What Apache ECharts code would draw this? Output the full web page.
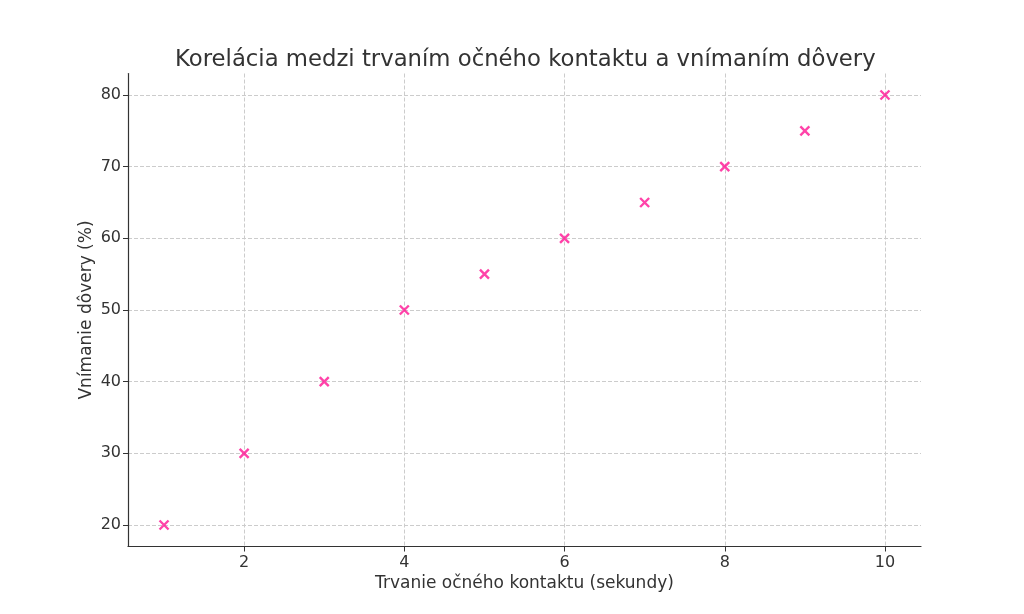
<!DOCTYPE html>
<html>
<head>
<meta charset="utf-8">
<script src="https://cdn.jsdelivr.net/npm/echarts@6/dist/echarts.min.js"></script>
<style>html,body{margin:0;padding:0;background:#fff}#c{width:1024px;height:614px}</style>
</head>
<body>
<div id="c"></div>
<script>
const durations = [1, 2, 3, 4, 5, 6, 7, 8, 9, 10];
const trust = [20, 30, 40, 50, 55, 60, 65, 70, 75, 80];
const xTicks = [2, 4, 6, 8, 10];
const yTicks = [20, 30, 40, 50, 60, 70, 80];

const chart = echarts.init(document.getElementById('c'));
const font = 'DejaVu Sans';
chart.setOption({
  animation: false,
  backgroundColor: '#fff',
  title: {
    text: 'Korelácia medzi trvaním očného kontaktu a vnímaním dôvery',
    left: 170, top: 44,
    textStyle: {fontFamily: font, fontSize: 22.75, fontWeight: 'normal', color: '#333'}
  },
  grid: {left: 128, right: 103, top: 73.5, bottom: 67.5},
  xAxis: {
    type: 'value', min: 0.55, max: 10.45,
    name: 'Trvanie očného kontaktu (sekundy)', nameLocation: 'middle', nameGap: 29,
    nameMoveOverlap: false,
    nameTextStyle: {fontFamily: font, fontSize: 17, color: '#333'},
    axisLine: {show: true, lineStyle: {color: '#333', width: 1.2}},
    axisTick: {show: true, customValues: xTicks, length: 5, lineStyle: {color: '#333'}},
    axisLabel: {customValues: xTicks, fontFamily: font, fontSize: 16, color: '#333', margin: 8},
    splitLine: {show: true, customValues: xTicks, lineStyle: {color: '#ccc', type: 'dashed'}}
  },
  yAxis: {
    type: 'value', min: 17, max: 83,
    name: 'Vnímanie dôvery (%)', nameLocation: 'middle', nameGap: 33,
    nameMoveOverlap: false,
    nameTextStyle: {fontFamily: font, fontSize: 17, color: '#333'},
    axisLine: {show: true, lineStyle: {color: '#333', width: 1.2}},
    axisTick: {show: true, customValues: yTicks, length: 5, lineStyle: {color: '#333'}},
    axisLabel: {customValues: yTicks, fontFamily: font, fontSize: 16, color: '#333', margin: 7},
    splitLine: {show: true, customValues: yTicks, lineStyle: {color: '#ccc', type: 'dashed'}}
  },
  series: [{
    type: 'scatter',
    data: durations.map((d, i) => [d, trust[i]]),
    symbol: 'path://M0,0L10,10M10,0L0,10',
    symbolSize: 9,
    itemStyle: {color: 'transparent', borderColor: '#FF1493', borderWidth: 2.4}
  }]
});
</script>
</body>
</html>
